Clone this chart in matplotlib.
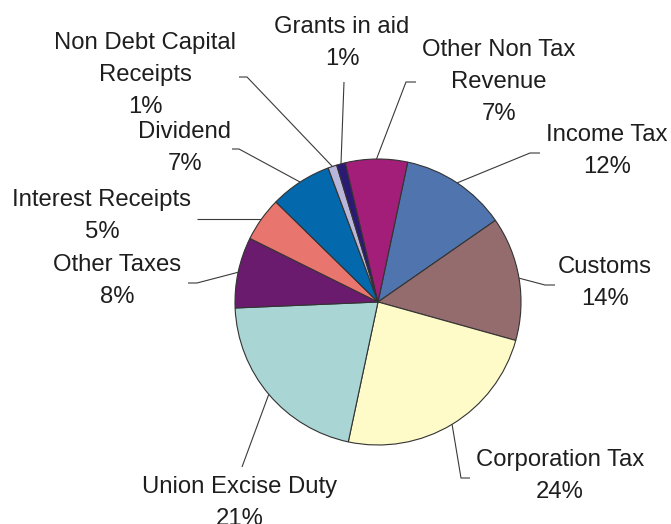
import numpy as np
import matplotlib
matplotlib.use("Agg")
import matplotlib.pyplot as plt

# Receipts share, listed clockwise starting from Income Tax
categories = ["Income Tax", "Customs", "Corporation Tax", "Union Excise Duty",
              "Other Taxes", "Interest Receipts", "Dividend",
              "Non Debt Capital\nReceipts", "Grants in aid",
              "Other Non Tax\nRevenue"]
shares = [12, 14, 24, 21, 8, 5, 7, 1, 1, 7]
colors = ["#4F74AE", "#946C6E", "#FFFBC8", "#A9D5D5", "#6A1B6E",
          "#E8756E", "#0468AC", "#B9B6DA", "#2B1A73", "#A21E79"]

W, H = 671, 524
fig = plt.figure(figsize=(W / 100, H / 100), dpi=100)
ax = fig.add_axes([0, 0, 1, 1])

cx, cy, r = 378, H - 302, 143
wedges, _ = ax.pie(shares, colors=colors, startangle=78, counterclock=False,
                   center=(cx, cy), radius=r, frame=True,
                   wedgeprops=dict(edgecolor="#333333", linewidth=0.8))
ax.set_xlim(0, W)
ax.set_ylim(0, H)
ax.set_aspect("equal")
ax.axis("off")

# label layout in pixel coordinates (top-left origin):
# text centre x, first-line centre y, leader elbow, leader end
layout = [
    ((607, 135), [(530, 153), (540, 153)]),
    ((605, 267), [(545, 285), (555, 285)]),
    ((560, 460), [(461, 478), (470, 478)]),
    ((240, 487), [(242, 467)]),
    ((117, 265), [(197, 283), (188, 283)]),
    ((102, 200), [(197, 218)]),
    ((185, 132), [(239, 149), (232, 149)]),
    ((145, 43), [(247, 77), (239, 77)]),
    ((342, 27), [(344, 82)]),
    ((499, 50), [(406, 82), (416, 82)]),
]

font = dict(family=["Liberation Sans", "DejaVu Sans"], size=17.2,
            color="#1e1e1e")
line_step = 32

for w, name, val, ((tx, ty), pts) in zip(wedges, categories, shares, layout):
    mid = np.deg2rad((w.theta1 + w.theta2) / 2)
    ex, ey = cx + r * np.cos(mid), cy + r * np.sin(mid)
    xs = [ex] + [p[0] for p in pts]
    ys = [ey] + [H - p[1] for p in pts]
    if name == "Interest Receipts":
        ys = [ey, ey]
    ax.plot(xs, ys, color="#3a3a3a", lw=0.8, solid_capstyle="butt", zorder=3)
    lines = name.split("\n") + [f"{val}%"]
    for i, s in enumerate(lines):
        ax.text(tx, H - (ty + i * line_step), s, ha="center", va="center",
                **font)

fig.savefig("out.png", dpi=100)
